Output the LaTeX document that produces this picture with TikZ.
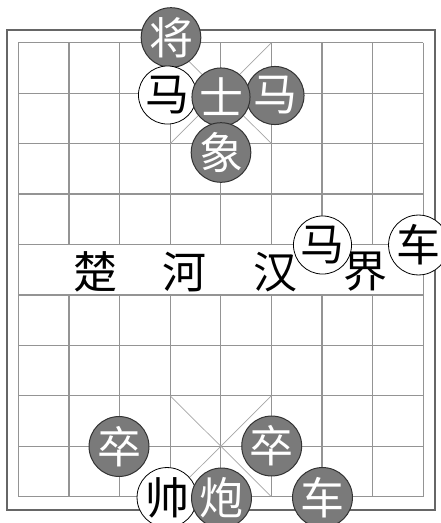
\documentclass[tikz,border=0pt]{standalone}
\usepackage{fontspec}
\newfontfamily\cjk{Noto Sans CJK SC}
\begin{document}
\begin{tikzpicture}[x=1pt,y=-1pt,
  gridline/.style={draw=black!42,line width=1.2pt},
  frameline/.style={draw=black!60,line width=2pt},
  palaceline/.style={draw=black!35,line width=0.7pt},
  darkpiece/.style={circle,minimum size=52pt,inner sep=0pt,fill=black!52,draw=black!80,line width=1pt,text=white,font=\cjk\fontsize{44}{44}\selectfont},
  lightpiece/.style={circle,minimum size=52pt,inner sep=0pt,fill=white,draw=black,line width=0.8pt,text=black,font=\cjk\fontsize{44}{44}\selectfont},
  rivertext/.style={inner sep=0pt,text=black,font=\cjk\fontsize{44}{44}\selectfont}]
\useasboundingbox (0,0) rectangle (441,523);
\clip (0,0) rectangle (441,523);
\fill[white] (0,0) rectangle (441,523);
% outer frame
\draw[frameline] (7,29.5) rectangle (435,509.5);
% grid
\foreach \j in {0,...,9}{
  \pgfmathsetmacro\yy{42.7+50.44*\j}
  \draw[gridline] (18.3,\yy) -- (423.3,\yy);
}
\draw[gridline] (18.3,42.7) -- (18.3,496.7);
\draw[gridline] (423.3,42.7) -- (423.3,496.7);
\foreach \i in {1,...,7}{
  \pgfmathsetmacro\xx{18.3+50.625*\i}
  \draw[gridline] (\xx,42.7) -- (\xx,244.5);
  \draw[gridline] (\xx,294.9) -- (\xx,496.7);
}
% palaces
\draw[palaceline] (170.2,42.7) -- (271.4,143.6) (271.4,42.7) -- (170.2,143.6);
\draw[palaceline] (170.2,395.8) -- (271.4,496.7) (271.4,395.8) -- (170.2,496.7);
% river text
\node[rivertext] (chu) at (96,272) {楚};
\node[rivertext] (he) at (184,272) {河};
\node[rivertext] (han) at (275,272) {汉};
\node[rivertext] (jie) at (365.5,272) {界};
% pieces
\node[darkpiece] (jiang) at (171,37.5) {将};
\node[lightpiece] (ma1) at (167.5,95) {马};
\node[darkpiece] (ma2) at (275,95.5) {马};
\node[darkpiece] (shi) at (221,97) {士};
\node[darkpiece] (xiang) at (221,152.5) {象};
\node[lightpiece] (ma3) at (322.5,245) {马};
\node[lightpiece] (che1) at (418.5,245) {车};
\node[darkpiece] (zu1) at (119,446.5) {卒};
\node[darkpiece] (zu2) at (271.7,446) {卒};
\node[lightpiece] (shuai) at (167,497.5) {帅};
\node[darkpiece] (pao) at (221.5,498) {炮};
\node[darkpiece] (che2) at (322.5,497.5) {车};
\end{tikzpicture}
\end{document}
